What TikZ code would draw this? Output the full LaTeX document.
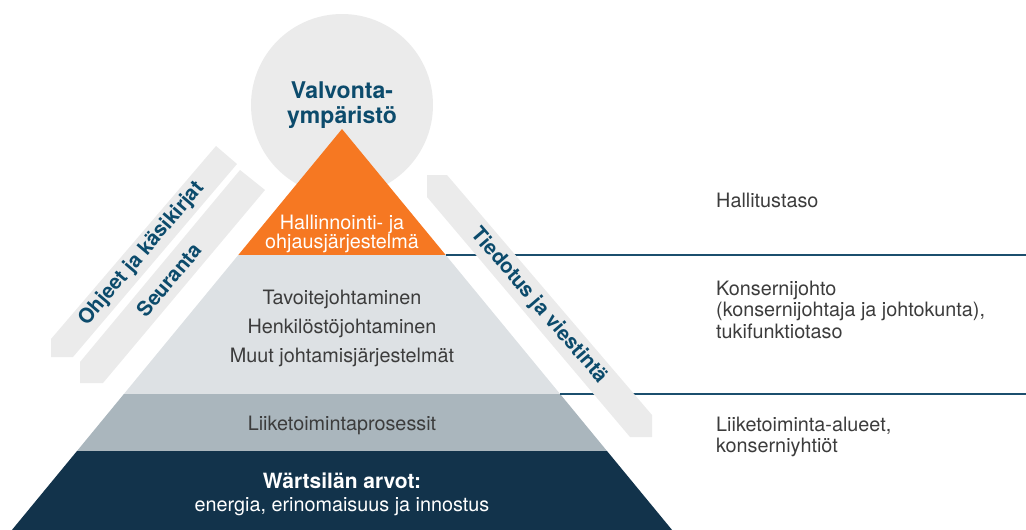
\documentclass[tikz,border=0pt]{standalone}
\usepackage{fontspec}
\setmainfont{TeX Gyre Heros}
\definecolor{orng}{RGB}{246,120,34}
\definecolor{lgray}{RGB}{221,225,228}
\definecolor{mgray}{RGB}{170,182,189}
\definecolor{navy}{RGB}{18,51,75}
\definecolor{pale}{RGB}{235,235,235}
\definecolor{wblue}{RGB}{12,75,108}
\definecolor{lineblue}{RGB}{27,79,110}
\definecolor{txtgray}{RGB}{60,60,60}
\tikzset{
  reg/.style={inner sep=0pt, anchor=base, font=\fontsize{19.8}{22}\selectfont},
  regl/.style={reg, anchor=base west, text=txtgray},
  bold/.style={inner sep=0pt, anchor=base, font=\fontsize{22}{25}\selectfont\bfseries},
  bandtxt/.style={inner sep=0pt, anchor=center, font=\fontsize{20.5}{24}\selectfont\bfseries, text=wblue},
  levelline/.style={draw=lineblue, line width=1.3pt}
}
\begin{document}
\begin{tikzpicture}[x=1pt,y=-1pt]
\useasboundingbox (0,0) rectangle (1026,530);
% circle
\fill[pale] (342,105) circle[radius=91];
% left bands
\fill[pale] (216,146) -- (237,164) -- (73,357) -- (51,357) -- (51,339) -- cycle;
\fill[pale] (240,170) -- (265,190) -- (103,383) -- (80,383) -- (80,362) -- cycle;
% pyramid
\coordinate (apex) at (342,129);
\fill[orng] (apex) -- (445.7,255) -- (238.3,255) -- cycle;
\fill[lgray] (238.3,255) -- (445.7,255) -- (560.1,394) -- (123.9,394) -- cycle;
\fill[mgray] (123.9,394) -- (560.1,394) -- (607,451) -- (77,451) -- cycle;
\fill[navy] (77,451) -- (607,451) -- (672.1,530) -- (11.9,530) -- cycle;
% level lines
\coordinate (l1a) at (445.7,255);
\coordinate (l1b) at (1026,255);
\coordinate (l2a) at (560.1,394);
\coordinate (l2b) at (1026,394);
\draw[levelline] (l1a) -- (l1b);
\draw[levelline] (l2a) -- (l2b);
% right band
\fill[pale] (427,175) -- (447,175) -- (652,415) -- (652,437) -- (630,437) -- (427,197) -- cycle;
% band texts
\node[bandtxt, rotate=49.6] (ohjeet) at (142,254) {Ohjeet ja käsikirjat};
\node[bandtxt, rotate=49.8] (seuranta) at (169,280) {Seuranta};
\node[bandtxt, rotate=-49.3] (tiedotus) at (539,306) {Tiedotus ja viestintä};
% circle text
\node[bold, text=wblue, font=\fontsize{23}{25}\selectfont\bfseries] (valv1) at (342,98) {Valvonta-};
\node[bold, text=wblue, font=\fontsize{23}{25}\selectfont\bfseries] (valv2) at (342,123) {ympäristö};
% pyramid texts
\node[reg, text=white] (hall1) at (342,229) {Hallinnointi- ja};
\node[reg, text=white] (hall2) at (342,248) {ohjausjärjestelmä};
\node[reg, text=txtgray] (tav) at (342,304) {Tavoitejohtaminen};
\node[reg, text=txtgray] (henk) at (342,333) {Henkilöstöjohtaminen};
\node[reg, text=txtgray] (muut) at (342,362) {Muut johtamisjärjestelmät};
\node[reg, text=txtgray] (liik) at (342,430) {Liiketoimintaprosessit};
\node[bold, text=white, font=\fontsize{21}{25}\selectfont\bfseries] (arvot) at (342,488) {Wärtsilän arvot:};
\node[reg, text=white] (energia) at (342,511) {energia, erinomaisuus ja innostus};
% right texts
\node[regl] (r1) at (716,207) {Hallitustaso};
\node[regl] (r2) at (716,295) {Konsernijohto};
\node[regl] (r3) at (716,316.5) {(konsernijohtaja ja johtokunta),};
\node[regl] (r4) at (716,338) {tukifunktiotaso};
\node[regl] (r5) at (716,431) {Liiketoiminta-alueet,};
\node[regl] (r6) at (716,452.5) {konserniyhtiöt};
\end{tikzpicture}
\end{document}
